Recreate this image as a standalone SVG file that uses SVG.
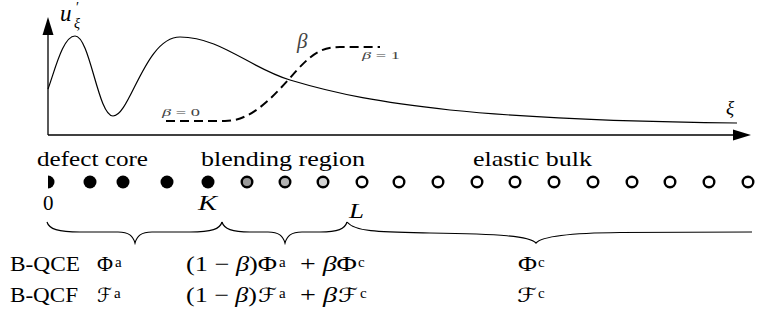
<svg xmlns="http://www.w3.org/2000/svg" width="757" height="330" viewBox="0 0 757 330">
<style>
 .axis { stroke:#000; stroke-width:1.3; fill:none; }
 .curve { stroke:#000; stroke-width:1.2; fill:none; }
 .dash { stroke:#000; stroke-width:2; fill:none; stroke-dasharray:9 5; }
 .brace { stroke:#000; stroke-width:1.2; fill:none; }
 .full { fill:#000; }
 .ring { stroke:#000; stroke-width:2.4; }
</style>
<g id="axes">
 <line class="axis" x1="48" y1="135" x2="48" y2="33"/>
 <polygon points="48,17 42.5,35 53.5,35" fill="#000"/>
 <line class="axis" x1="48" y1="135" x2="735" y2="135"/>
 <polygon points="751,135 733,129.5 733,140.5" fill="#000"/>
 <text x="60" y="21" font-family="Liberation Serif" font-size="23" font-style="italic">u</text>
 <text x="76" y="12" font-family="Liberation Serif" font-size="14">′</text>
 <text x="74" y="28" font-family="Liberation Serif" font-size="14" font-style="italic">ξ</text>
 <text x="726" y="114" font-family="Liberation Serif" font-size="19" font-style="italic">ξ</text>
</g>
<g id="curves">
 <path class="curve" d="M48,89 C55,70 63,36 75,36 C90,36 98,116 113,116 C130,116 145,37 180,37 C220,37 250,68 290,80 C340,95 380,102 450,110 C530,118 640,122 737,123"/>
 <path class="dash" d="M166,121 L225,121 C250,121 270,100 290,78 C310,55 320,47 340,47 L380,47"/>
 <text x="297" y="48" font-family="Liberation Serif" font-size="21" font-style="italic" fill="#444">β</text>
 <text x="162" y="116" font-family="Liberation Serif" font-size="10" fill="#444" textLength="38" lengthAdjust="spacingAndGlyphs"><tspan font-style="italic">β</tspan> = 0</text>
 <text x="362" y="59" font-family="Liberation Serif" font-size="10" fill="#444" textLength="38" lengthAdjust="spacingAndGlyphs"><tspan font-style="italic">β</tspan> = 1</text>
</g>
<g id="region-labels">
 <text x="37" y="166" font-family="Liberation Serif" font-size="22" textLength="111" lengthAdjust="spacingAndGlyphs">defect core</text>
 <text x="201" y="166" font-family="Liberation Serif" font-size="22" textLength="164" lengthAdjust="spacingAndGlyphs">blending region</text>
 <text x="473" y="166" font-family="Liberation Serif" font-size="22" textLength="119" lengthAdjust="spacingAndGlyphs">elastic bulk</text>
</g>
<g id="atoms">
 <path class="full" d="M48,175.5 A6.5,6.5 0 0 1 48,188.5 Z"/>
 <circle class="full" cx="90" cy="182" r="6.5"/>
 <circle class="full" cx="123" cy="182" r="6.5"/>
 <circle class="full" cx="167" cy="182" r="6.5"/>
 <circle class="full" cx="208" cy="182" r="6.5"/>
 <circle class="ring" cx="247" cy="182" r="5.3" fill="#9a9a9a"/>
 <circle class="ring" cx="285" cy="182" r="5.3" fill="#b2b2b2"/>
 <circle class="ring" cx="323" cy="182" r="5.3" fill="#d4d4d4"/>
 <g fill="#fff">
  <circle class="ring" cx="362" cy="182" r="5.3"/>
  <circle class="ring" cx="399" cy="182" r="5.3"/>
  <circle class="ring" cx="438" cy="182" r="5.3"/>
  <circle class="ring" cx="477" cy="182" r="5.3"/>
  <circle class="ring" cx="515" cy="182" r="5.3"/>
  <circle class="ring" cx="554" cy="182" r="5.3"/>
  <circle class="ring" cx="593" cy="182" r="5.3"/>
  <circle class="ring" cx="632" cy="182" r="5.3"/>
  <circle class="ring" cx="670" cy="182" r="5.3"/>
  <circle class="ring" cx="709" cy="182" r="5.3"/>
  <circle class="ring" cx="748" cy="182" r="5.3"/>
 </g>
 <text x="43" y="210" font-family="Liberation Serif" font-size="21">0</text>
 <text x="198" y="210" font-family="Liberation Serif" font-size="21" font-style="italic" textLength="19" lengthAdjust="spacingAndGlyphs">K</text>
 <text x="349" y="218" font-family="Liberation Serif" font-size="21" font-style="italic" textLength="15" lengthAdjust="spacingAndGlyphs">L</text>
</g>
<g id="braces">
 <path class="brace" d="M47,222 C49,229 58,232 80,232 L118,232 C129,232 133,236 135,243 C137,236 141,232 152,232 L190,232 C212,232 220,229 222,222"/>
 <path class="brace" d="M222,222 C224,229 232,232 250,232 L268,232 C279,232 283,236 285,243 C287,236 291,232 302,232 L320,232 C338,232 345,229 347,222"/>
 <path class="brace" d="M347,222 C355,232 380,232 430,233 C500,234 530,236 536,243 C542,236 570,233 620,232.5 L752,232"/>
</g>
<g id="formulas">
 <text x="10" y="271" font-family="Liberation Serif" font-size="21" textLength="70" lengthAdjust="spacingAndGlyphs">B-QCE</text>
 <text x="97" y="271" font-family="Liberation Serif" font-size="21" textLength="16" lengthAdjust="spacingAndGlyphs">Φ</text>
 <text x="115" y="267" font-family="Liberation Serif" font-size="15">a</text>
 <text x="186" y="271" font-family="Liberation Serif" font-size="21" textLength="91" lengthAdjust="spacingAndGlyphs">(1 − <tspan font-style="italic">β</tspan>)Φ</text>
 <text x="279" y="267" font-family="Liberation Serif" font-size="15">a</text>
 <text x="300" y="271" font-family="Liberation Serif" font-size="21" textLength="57" lengthAdjust="spacingAndGlyphs">+ <tspan font-style="italic">β</tspan>Φ</text>
 <text x="358" y="267" font-family="Liberation Serif" font-size="15">c</text>
 <text x="518" y="271" font-family="Liberation Serif" font-size="21" textLength="19" lengthAdjust="spacingAndGlyphs">Φ</text>
 <text x="538" y="267" font-family="Liberation Serif" font-size="15">c</text>

 <text x="10" y="302" font-family="Liberation Serif" font-size="21" textLength="68" lengthAdjust="spacingAndGlyphs">B-QCF</text>
 <text x="97" y="302" font-family="DejaVu Sans" font-size="20" textLength="15" lengthAdjust="spacingAndGlyphs">ℱ</text>
 <text x="114" y="298" font-family="Liberation Serif" font-size="15">a</text>
 <text x="186" y="302" font-family="Liberation Serif" font-size="21" textLength="71" lengthAdjust="spacingAndGlyphs">(1 − <tspan font-style="italic">β</tspan>)</text>
 <text x="258" y="302" font-family="DejaVu Sans" font-size="20" textLength="19" lengthAdjust="spacingAndGlyphs">ℱ</text>
 <text x="279" y="298" font-family="Liberation Serif" font-size="15">a</text>
 <text x="300" y="302" font-family="Liberation Serif" font-size="21" textLength="37" lengthAdjust="spacingAndGlyphs">+ <tspan font-style="italic">β</tspan></text>
 <text x="338" y="302" font-family="DejaVu Sans" font-size="20" textLength="20" lengthAdjust="spacingAndGlyphs">ℱ</text>
 <text x="360" y="298" font-family="Liberation Serif" font-size="15">c</text>
 <text x="517" y="302" font-family="DejaVu Sans" font-size="20" textLength="20" lengthAdjust="spacingAndGlyphs">ℱ</text>
 <text x="538" y="298" font-family="Liberation Serif" font-size="15">c</text>
</g>
</svg>
